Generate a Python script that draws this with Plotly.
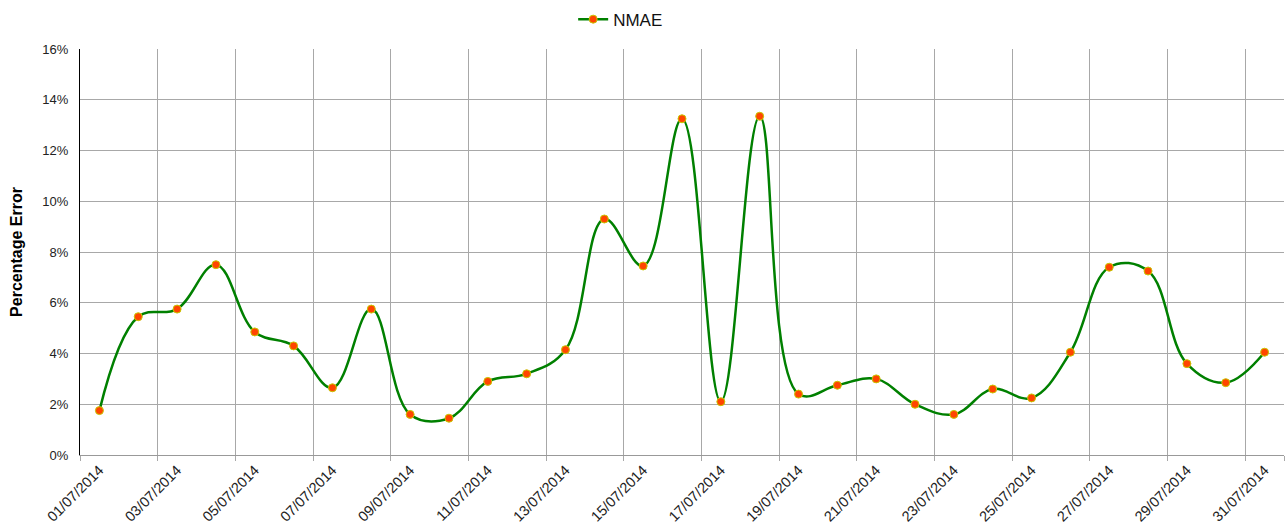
import plotly.graph_objects as go

days = list(range(1, 32))
date_labels = [f"{d:02d}/07/2014" for d in days]
nmae = [1.75, 5.45, 5.75, 7.5, 4.85, 4.3, 2.65, 5.75, 1.6, 1.45,
        2.9, 3.2, 4.15, 9.3, 7.45, 13.25, 2.1, 13.35, 2.4, 2.75,
        3.0, 2.0, 1.6, 2.6, 2.25, 4.05, 7.4, 7.25, 3.6, 2.85, 4.05]

label_days = days[::2]
label_text = date_labels[::2]
grid_pos = [d - 0.5 for d in days[::2]] + [days[-1] + 0.5]

fig = go.Figure()
fig.add_trace(go.Scatter(
    x=days, y=nmae, name="NMAE", mode="lines+markers",
    line=dict(color="#008000", width=2.5, shape="spline", smoothing=1.1),
    marker=dict(color="#FF4500", size=8, line=dict(color="#C8C800", width=1)),
))

font = "Liberation Sans, Arial, sans-serif"
fig.update_layout(
    width=1288, height=531,
    margin=dict(l=80, r=4, t=49, b=76),
    paper_bgcolor="white", plot_bgcolor="white",
    font=dict(family=font, size=13, color="#222222"),
    showlegend=True,
    legend=dict(orientation="h", x=0.445, xanchor="left", xref="container",
                y=0.997, yanchor="top", yref="container",
                font=dict(size=17, color="#111111")),
    xaxis=dict(
        range=[0.5, 31.5], tickmode="array", tickvals=label_days, ticktext=label_text,
        tickangle=-45, ticks="", showgrid=False, zeroline=False, automargin=False,
        showline=True, linecolor="#999999", linewidth=1,
        tickfont=dict(size=14.5, color="#222222"),
        minor=dict(tickmode="array", tickvals=grid_pos, showgrid=True,
                   gridcolor="#A8A8A8", gridwidth=1, ticks="outside",
                   ticklen=5, tickcolor="#A8A8A8"),
    ),
    yaxis=dict(
        range=[0, 16], dtick=2, ticksuffix="%", showgrid=True, automargin=False,
        gridcolor="#A8A8A8", gridwidth=1, zeroline=False,
        showline=True, linecolor="#000000", linewidth=1, ticks="",
        ticklabelstandoff=8,
        tickfont=dict(size=13, color="#222222"),
        title=dict(text="<b>Percentage Error</b>", font=dict(size=16, color="#000000"),
                   standoff=15),
    ),
)
fig.write_html("out.html", config={"displayModeBar": False},
               post_script="document.body.style.margin='0px';document.body.style.overflow='hidden';")
